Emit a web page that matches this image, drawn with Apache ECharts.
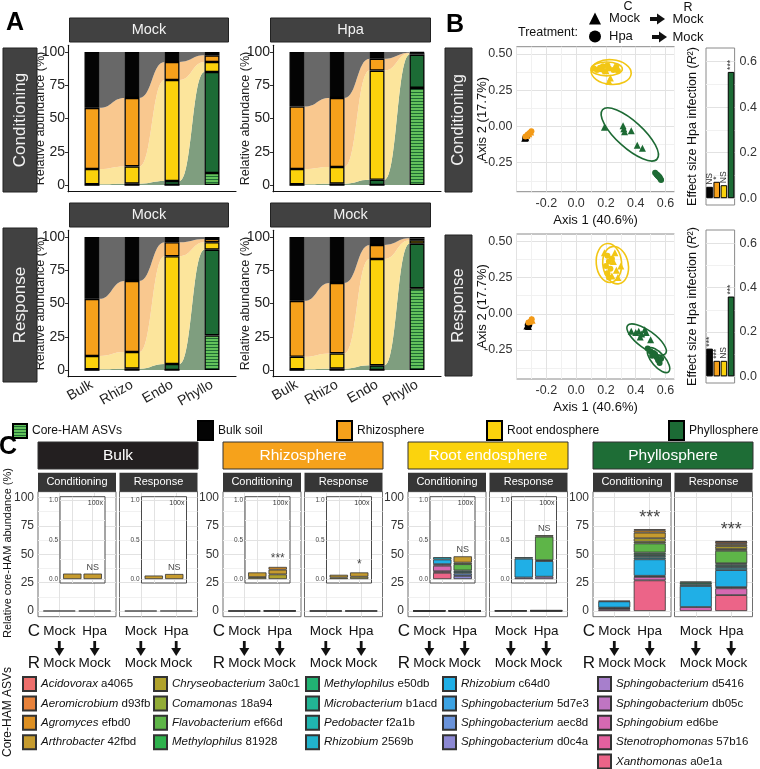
<!DOCTYPE html>
<html><head><meta charset="utf-8">
<script src="https://cdn.jsdelivr.net/npm/echarts@6/dist/echarts.min.js"></script>
<style>html,body{margin:0;padding:0;background:#fff}#c{width:760px;height:769px}</style>
</head><body><div id="c"></div>
<script>
// ---------------- DATA ----------------
// Panel A: stacked relative abundance (%) per compartment bar: Bulk, Rhizo, Endo, Phyllo
const aCategories = ['Bulk', 'Rhizo', 'Endo', 'Phyllo'];
const aLayerNames = ['Core-HAM ASVs', 'Phyllosphere', 'Root endosphere', 'Rhizosphere', 'Bulk soil'];
// Conditioning - Mock
const condMockCore   = [0, 0, 0, 9];
const condMockPhyllo = [0.5, 1, 3, 76];
const condMockEndo   = [11.5, 13, 76, 7.5];
const condMockRhizo  = [46, 51.5, 13.5, 5];
const condMockBulk   = [42, 34.5, 7.5, 2.5];
// Conditioning - Hpa
const condHpaCore   = [0, 0, 0, 73];
const condHpaPhyllo = [0.5, 1, 4, 25];
const condHpaEndo   = [11.5, 12.5, 82, 1];
const condHpaRhizo  = [47, 52, 9, 0.5];
const condHpaBulk   = [41, 34.5, 5, 0.5];
// Response - Mock -> Mock
const respMockCore   = [0, 0, 0, 26];
const respMockPhyllo = [0.5, 1, 4.5, 64.5];
const respMockEndo   = [10, 12.5, 81, 5.5];
const respMockRhizo  = [43, 53.5, 10.5, 2.5];
const respMockBulk   = [46.5, 33, 4, 1.5];
// Response - Hpa -> Mock
const respHpaCore   = [0, 0, 0, 61.5];
const respHpaPhyllo = [0.5, 1, 3.5, 33.5];
const respHpaEndo   = [9.5, 11.5, 80, 2.5];
const respHpaRhizo  = [42, 53, 10.5, 1.5];
const respHpaBulk   = [48, 34.5, 6, 1];
const aStripTop = ['Mock', 'Hpa'];
const aStripBottom = ['Mock', 'Mock'];

// Panel B: PCoA points [axis1, axis2] and ellipses [cx, cy, semiMajor, semiMinor, angleDeg]
const condBulkMock = [[-0.345, -0.082], [-0.338, -0.078]];
const condBulkHpa = [[-0.335, -0.074], [-0.328, -0.07], [-0.342, -0.08]];
const condRhizoMock = [[-0.33, -0.062], [-0.318, -0.05], [-0.305, -0.038]];
const condRhizoHpa = [[-0.34, -0.07], [-0.325, -0.056], [-0.312, -0.045], [-0.3, -0.033]];
const condEndoMock = [[0.22, 0.31], [0.23, 0.335], [0.16, 0.4], [0.26, 0.41], [0.2, 0.385]];
const condEndoHpa = [[0.12, 0.40], [0.14, 0.39], [0.16, 0.405], [0.18, 0.415], [0.19, 0.38], [0.21, 0.42], [0.22, 0.40], [0.25, 0.39], [0.27, 0.41], [0.28, 0.385]];
const condPhylloMock = [[0.19, -0.005], [0.315, 0.005], [0.32, -0.015], [0.325, -0.037], [0.37, -0.03], [0.41, -0.13], [0.445, -0.15]];
const condPhylloHpa = [[0.53, -0.32], [0.54, -0.33], [0.545, -0.335], [0.55, -0.34], [0.555, -0.345], [0.56, -0.35], [0.565, -0.36], [0.57, -0.37]];
const condBulkMockEll = [-0.34, -0.079, 0.012, 0.005, 30];
const condBulkHpaEll = [-0.335, -0.075, 0.012, 0.005, 30];
const condRhizoMockEll = [-0.318, -0.05, 0.03, 0.008, 45];
const condRhizoHpaEll = [-0.32, -0.052, 0.035, 0.01, 45];
const condEndoMockEll = [0.235, 0.375, 0.135, 0.085, -5];
const condEndoHpaEll = [0.205, 0.397, 0.105, 0.048, 0];
const condPhylloMockEll = [0.36, -0.055, 0.25, 0.09, -43];
const condPhylloHpaEll = [0.55, -0.345, 0.04, 0.014, -45];

const respBulkMock = [[-0.33, -0.085], [-0.32, -0.088]];
const respBulkHpa = [[-0.315, -0.08], [-0.325, -0.078]];
const respRhizoMock = [[-0.31, -0.05], [-0.3, -0.04], [-0.295, -0.045]];
const respRhizoHpa = [[-0.32, -0.06], [-0.305, -0.055], [-0.298, -0.038]];
const respEndoMock = [[0.19, 0.42], [0.25, 0.36], [0.27, 0.30], [0.30, 0.33], [0.28, 0.25], [0.24, 0.26], [0.26, 0.42]];
const respEndoHpa = [[0.21, 0.40], [0.22, 0.36], [0.24, 0.38], [0.20, 0.33], [0.23, 0.31], [0.21, 0.28], [0.22, 0.25]];
const respPhylloMock = [[0.37, -0.12], [0.40, -0.13], [0.42, -0.12], [0.44, -0.14], [0.47, -0.13], [0.43, -0.16], [0.50, -0.18], [0.46, -0.11]];
const respPhylloHpa = [[0.48, -0.24], [0.50, -0.26], [0.52, -0.27], [0.51, -0.29], [0.54, -0.30], [0.55, -0.32], [0.56, -0.34], [0.57, -0.31], [0.53, -0.28]];
const respBulkMockEll = [-0.325, -0.086, 0.012, 0.005, 0];
const respBulkHpaEll = [-0.32, -0.079, 0.012, 0.005, 0];
const respRhizoMockEll = [-0.302, -0.045, 0.018, 0.01, 40];
const respRhizoHpaEll = [-0.308, -0.05, 0.022, 0.01, 40];
const respEndoMockEll = [0.265, 0.335, 0.13, 0.085, 100];
const respEndoHpaEll = [0.22, 0.35, 0.135, 0.085, 95];
const respPhylloMockEll = [0.473, -0.178, 0.16, 0.06, -37];
const respPhylloHpaEll = [0.553, -0.32, 0.105, 0.045, -50];

// Panel B: effect size of Hpa infection (R2)
const effectCats = ['Bulk soil', 'Rhizosphere', 'Root endosphere', 'Phyllosphere'];
const effectCond = [0.05, 0.072, 0.057, 0.555];
const effectCondSig = ['NS', '*', 'NS', '***'];
const effectResp = [0.125, 0.07, 0.07, 0.36];
const effectRespSig = ['***', '***', 'NS', '***'];

// Panel C: core-HAM ASV abundance (%), one value per taxon (order of legend)
const taxa = ['Acidovorax a4065', 'Aeromicrobium d93fb', 'Agromyces efbd0', 'Arthrobacter 42fbd',
  'Chryseobacterium 3a0c1', 'Comamonas 18a94', 'Flavobacterium ef66d', 'Methylophilus 81928',
  'Methylophilus e50db', 'Microbacterium b1acd', 'Pedobacter f2a1b', 'Rhizobium 2569b',
  'Rhizobium c64d0', 'Sphingobacterium 5d7e3', 'Sphingobacterium aec8d', 'Sphingobacterium d0c4a',
  'Sphingobacterium d5416', 'Sphingobacterium db05c', 'Sphingobium ed6be', 'Stenotrophomonas 57b16',
  'Xanthomonas a0e1a'];
const cTreatments = ['Mock', 'Hpa'];
//                    0  1  2     3     4     5  6     7  8     9     10    11    12    13 14    15    16    17    18    19    20
const bulkCondMock  = [0, 0, 0, 0.07, 0, 0, 0, 0, 0, 0, 0, 0, 0, 0, 0, 0, 0, 0, 0, 0, 0];
const bulkCondHpa   = [0, 0, 0, 0.07, 0, 0, 0, 0, 0, 0, 0, 0, 0, 0, 0, 0, 0, 0, 0, 0, 0];
const bulkRespMock  = [0, 0, 0, 0.045, 0, 0, 0, 0, 0, 0, 0, 0, 0, 0, 0, 0, 0, 0, 0, 0, 0];
const bulkRespHpa   = [0, 0, 0, 0.065, 0, 0, 0, 0, 0, 0, 0, 0, 0, 0, 0, 0, 0, 0, 0, 0, 0];
const rhizoCondMock = [0, 0, 0, 0.06, 0.025, 0, 0, 0, 0, 0, 0, 0, 0, 0, 0, 0, 0, 0, 0, 0, 0];
const rhizoCondHpa  = [0, 0, 0.035, 0.06, 0.06, 0, 0, 0, 0, 0, 0, 0, 0, 0, 0, 0, 0, 0, 0, 0, 0];
const rhizoRespMock = [0, 0, 0, 0.035, 0.02, 0, 0, 0, 0, 0, 0, 0, 0, 0, 0, 0, 0, 0, 0, 0, 0];
const rhizoRespHpa  = [0, 0, 0, 0.055, 0.03, 0, 0, 0, 0, 0, 0, 0, 0, 0, 0, 0, 0, 0, 0, 0, 0];
const endoCondMock  = [0, 0, 0, 0, 0, 0, 0, 0, 0, 0, 0, 0.03, 0.06, 0, 0, 0, 0, 0.02, 0.07, 0.02, 0.08];
const endoCondHpa   = [0, 0, 0, 0.08, 0, 0.02, 0.08, 0, 0, 0.02, 0.02, 0, 0, 0, 0.03, 0.04, 0, 0, 0, 0, 0];
const endoRespMock  = [0, 0, 0, 0, 0, 0, 0, 0, 0, 0, 0.02, 0, 0.24, 0, 0, 0, 0.02, 0, 0, 0, 0];
const endoRespHpa   = [0, 0, 0, 0, 0, 0.02, 0.30, 0, 0.01, 0, 0, 0, 0.20, 0, 0, 0, 0.03, 0, 0, 0, 0];
const phylloCondMock = [0, 0, 0, 0, 0, 0, 0, 0, 0, 0, 0, 0.5, 5.5, 0.5, 0, 0, 0, 1.0, 1.5, 0, 0];
const phylloCondHpa  = [0, 1, 2, 5, 3, 1.5, 8, 1.5, 1.5, 0, 1.5, 1.5, 14.5, 1, 0, 0, 0, 0, 3, 0, 27];
const phylloRespMock = [0, 0, 0, 0, 0, 0, 0, 1, 1.5, 0, 1.5, 0, 18.5, 0, 0, 0, 0, 0, 3.5, 0, 0];
const phylloRespHpa  = [0.5, 1.5, 1, 1.5, 2.5, 1.5, 11, 1, 1.5, 0, 1.5, 2, 15, 1, 0, 0, 0, 0, 6, 0, 14];
const cTitles = ['Bulk', 'Rhizosphere', 'Root endosphere', 'Phyllosphere'];
const cSigCond = ['NS', '***', 'NS', '***'];
const cSigResp = ['NS', '*', 'NS', '***'];
const cTopLabels = ['Mock', 'Hpa'];
const cBottomLabels = ['Mock', 'Mock'];

// ---------------- STYLE ----------------
const FONT = "'Liberation Sans', Arial, Helvetica, sans-serif";
const COL = { bulk: '#040404', rhizo: '#f6a11b', endo: '#fbd20c', phyllo: '#1c6b35' };
const SCOL = { Bulk: '#000000', Rhizo: '#f39a17', Endo: '#f2c614', Phyllo: '#1d6a34' };
const aFlowColors = ['#7f9e7f', '#fce59c', '#f9c88f', '#686868'];
const taxaColors = ['#ee6f6c', '#e8823a', '#dc8f22', '#c69b2e', '#b0a22c', '#92ac36', '#5eb548', '#2fb24d',
  '#21b373', '#22b494', '#20b5b0', '#21b3cc', '#20afe6', '#3ca2e2', '#6a93da', '#8c88d3',
  '#a77fcc', '#bf75c2', '#d569b2', '#e3609e', '#ec6488'];
const GMAJ = '#e2e2e2', GMIN = '#f1f1f1';
const isMult = (v, m) => Math.abs(v / m - Math.round(v / m)) < 1e-6;
const fmt = (v, d) => { const p = Math.pow(10, d); let r = Math.round(v * p) / p; if (r === 0) r = 0; return r.toFixed(d); };
const cyc = (n, iMaj, iMin, cMaj, cMin) => { const a = []; for (let i = 0; i < n; i++) a.push(i === iMaj ? cMaj : (i === iMin ? cMin : 'rgba(0,0,0,0)')); return a; };

const stripeCanvas = (() => { const c = document.createElement('canvas'); c.width = 4; c.height = 3; const g = c.getContext('2d'); g.fillStyle = '#63c25b'; g.fillRect(0, 0, 4, 3); g.fillStyle = '#1f6b34'; g.fillRect(0, 2, 4, 1); return c; })();
const corePattern = { image: stripeCanvas, repeat: 'repeat' };
const aLayerColors = [corePattern, COL.phyllo, COL.endo, COL.rhizo, COL.bulk];

const option = { animation: false, backgroundColor: '#ffffff', textStyle: { fontFamily: FONT },
  grid: [], xAxis: [], yAxis: [], series: [], legend: [], graphic: { elements: [] } };
const G = option.graphic.elements;
function addGrid(g) { option.grid.push(Object.assign({ containLabel: false, show: false }, g)); return option.grid.length - 1; }
function addX(a) { option.xAxis.push(a); return option.xAxis.length - 1; }
function addY(a) { option.yAxis.push(a); return option.yAxis.length - 1; }
function gRect(x, y, w, h, fill, stroke) { G.push({ type: 'rect', silent: true, z: 10, shape: { x, y, width: w, height: h }, style: { fill, stroke: stroke || null, lineWidth: stroke ? 1 : 0 } }); }
function gText(x, y, text, o) { o = o || {}; G.push({ type: 'text', silent: true, z: 11, x, y, rotation: o.rot || 0,
  style: { text, fontSize: o.size || 12, fontFamily: FONT, fontWeight: o.weight || 'normal', fill: o.color || '#111',
    textAlign: o.align || 'center', textVerticalAlign: o.valign || 'middle' } }); }
function gDownArrow(x, y) {
  G.push({ type: 'rect', silent: true, z: 10, shape: { x: x - 1.4, y: y, width: 2.8, height: 9 }, style: { fill: '#111' } });
  G.push({ type: 'polygon', silent: true, z: 10, shape: { points: [[x - 5, y + 7], [x + 5, y + 7], [x, y + 15]] }, style: { fill: '#111' } });
}
function gRightArrow(x, y) {
  G.push({ type: 'rect', silent: true, z: 10, shape: { x: x, y: y - 2, width: 8, height: 4 }, style: { fill: '#111' } });
  G.push({ type: 'polygon', silent: true, z: 10, shape: { points: [[x + 7, y - 5.5], [x + 7, y + 5.5], [x + 15, y]] }, style: { fill: '#111' } });
}
const hiddenAxis = (gi, type, extra) => Object.assign({ gridIndex: gi, type, show: false, axisLine: { show: false }, axisTick: { show: false }, axisLabel: { show: false }, splitLine: { show: false } }, extra || {});

// ---------------- PANEL A ----------------
const aPanels = [
  { left: 68, top: 45.35, layers: [condMockCore, condMockPhyllo, condMockEndo, condMockRhizo, condMockBulk], showX: false },
  { left: 273, top: 45.35, layers: [condHpaCore, condHpaPhyllo, condHpaEndo, condHpaRhizo, condHpaBulk], showX: false },
  { left: 68, top: 230.35, layers: [respMockCore, respMockPhyllo, respMockEndo, respMockRhizo, respMockBulk], showX: true },
  { left: 273, top: 230.35, layers: [respHpaCore, respHpaPhyllo, respHpaEndo, respHpaRhizo, respHpaBulk], showX: true }
];
aPanels.forEach((p) => {
  // axes + flows on a continuous x scale (0.4 .. 4.6), bars on a category scale aligned with it
  const gi = addGrid({ left: p.left, top: p.top, width: 168, height: 146.3 });
  const xi = addX({ gridIndex: gi, type: 'value', min: 0.4, max: 4.6, interval: 0.2,
    axisLine: { show: true, onZero: false, lineStyle: { color: '#111', width: 1.1 } }, axisTick: { show: false }, splitLine: { show: false },
    axisLabel: { show: p.showX, rotate: 30, margin: 7, fontSize: 14, color: '#222',
      formatter: v => { const k = Math.round(v); return (isMult(v, 1) && k >= 1 && k <= 4) ? aCategories[k - 1] : ''; } } });
  const yi = addY({ gridIndex: gi, type: 'value', min: -5, max: 105,
    name: 'Relative abundance (%)', nameLocation: 'middle', nameGap: 21, nameMoveOverlap: false, nameTextStyle: { fontSize: 12.5, color: '#222' },
    axisLine: { show: true, onZero: false, lineStyle: { color: '#111', width: 1.1 } },
    axisTick: { show: true, length: 3, customValues: [0, 25, 50, 75, 100], lineStyle: { color: '#333' } },
    axisLabel: { customValues: [0, 25, 50, 75, 100], fontSize: 14, color: '#222', margin: 3 }, splitLine: { show: false } });
  const cum = aCategories.map((c, b) => { let s = 0; const out = [0]; [p.layers[0][b] + p.layers[1][b], p.layers[2][b], p.layers[3][b], p.layers[4][b]].forEach(v => { s += v; out.push(s); }); return out; });
  const flowData = []; for (let b = 0; b < 3; b++) for (let l = 0; l < 4; l++) flowData.push([b + 1, l]);
  option.series.push({ type: 'custom', xAxisIndex: xi, yAxisIndex: yi, z: 1, silent: true, data: flowData,
    renderItem: (params, api) => {
      const b = api.value(0) - 1, l = api.value(1), hw = 0.1875;
      const P = (x, y) => api.coord([x, y]);
      const A = P(b + 1 + hw, cum[b][l + 1]), B = P(b + 2 - hw, cum[b + 1][l + 1]);
      const C = P(b + 2 - hw, cum[b + 1][l]), D = P(b + 1 + hw, cum[b][l]);
      const m = (A[0] + B[0]) / 2;
      return { type: 'path', shape: { pathData: `M${A[0]} ${A[1]} C${m} ${A[1]} ${m} ${B[1]} ${B[0]} ${B[1]} L${C[0]} ${C[1]} C${m} ${C[1]} ${m} ${D[1]} ${D[0]} ${D[1]} Z` },
        style: { fill: aFlowColors[l], stroke: 'none' } };
    } });
  const bg = addGrid({ left: p.left + 4, top: p.top, width: 160, height: 146.3 });
  const bx = addX(hiddenAxis(bg, 'category', { data: aCategories, boundaryGap: true }));
  const by = addY(hiddenAxis(bg, 'value', { min: -5, max: 105 }));
  p.layers.forEach((arr, li) => option.series.push({ type: 'bar', name: aLayerNames[li], xAxisIndex: bx, yAxisIndex: by, stack: 'a' + bg,
    barWidth: 15, z: 3, silent: true, data: arr.slice(),
    itemStyle: { color: aLayerColors[li], borderColor: '#000', borderWidth: 1.3 } }));
});
gText(15, 23, 'A', { size: 25, weight: 'bold', color: '#000' });
gRect(69.5, 18, 159, 24, '#414141', '#222'); gText(149, 30, aStripTop[0], { size: 14.5, color: '#f2f2f2' });
gRect(270.5, 18, 160, 24, '#414141', '#222'); gText(350.5, 30, aStripTop[1], { size: 14.5, color: '#f2f2f2' });
gRect(69.5, 203, 159, 24, '#414141', '#222'); gText(149, 215, aStripBottom[0], { size: 14.5, color: '#f2f2f2' });
gRect(270.5, 203, 160, 24, '#414141', '#222'); gText(350.5, 215, aStripBottom[1], { size: 14.5, color: '#f2f2f2' });
gRect(3, 48, 34, 144, '#414141', '#222'); gText(20, 120, 'Conditioning', { size: 17, color: '#f2f2f2', rot: Math.PI / 2 });
gRect(3, 228, 34, 154, '#414141', '#222'); gText(20, 305, 'Response', { size: 17, color: '#f2f2f2', rot: Math.PI / 2 });

// legend row under A/B
const aLegendPos = [[12, 'Core-HAM ASVs'], [197, 'Bulk soil'], [336, 'Rhizosphere'], [486, 'Root endosphere'], [668, 'Phyllosphere']];
aLegendPos.forEach(([x, name], i) => option.legend.push({ left: x, top: i === 0 ? 423 : 420, padding: 0, selectedMode: false, icon: 'rect',
  itemWidth: i === 0 ? 14 : 15, itemHeight: i === 0 ? 14 : 19, itemGap: 0, data: [name],
  textStyle: { fontSize: 12, color: '#111', fontFamily: FONT } }));

// ---------------- PANEL B ----------------
gText(455, 25, 'B', { size: 25, weight: 'bold', color: '#000' });
gText(518, 33, 'Treatment:', { size: 12.5, align: 'left' });
gText(628, 7, 'C', { size: 12.5 });
gText(688, 8, 'R', { size: 12.5 });
gRightArrow(650, 19); gRightArrow(652, 37);
gText(688, 19, 'Mock', { size: 13 });
gText(688, 37, 'Mock', { size: 13 });
option.legend.push({ left: 589, top: 12, padding: 0, orient: 'vertical', selectedMode: false, itemWidth: 12, itemHeight: 12, itemGap: 5,
  itemStyle: { color: '#000', borderWidth: 0 },
  data: [{ name: 'Mock', icon: 'triangle' }, { name: 'Hpa', icon: 'circle' }],
  textStyle: { fontSize: 13, color: '#111', padding: [0, 0, 0, 3] } });
gRect(445, 48, 27, 144, '#414141', '#222'); gText(458.5, 120, 'Conditioning', { size: 16.5, color: '#f2f2f2', rot: Math.PI / 2 });
gRect(445, 235, 27, 141, '#414141', '#222'); gText(458.5, 305.5, 'Response', { size: 16.5, color: '#f2f2f2', rot: Math.PI / 2 });

function scatterPanel(top, groups) {
  const gi = addGrid({ left: 516.5, top, width: 158, height: 145, show: true, backgroundColor: '#fff', borderColor: '#8a8a8a', borderWidth: 1 });
  const xi = addX({ gridIndex: gi, type: 'value', min: -0.4, max: 0.66, interval: 0.1,
    axisLine: { show: false }, axisTick: { show: false },
    splitLine: { show: true, lineStyle: { color: cyc(2, 0, 1, GMAJ, GMIN), width: 1 } },
    axisLabel: { fontSize: 12.5, color: '#333', margin: 5, formatter: v => (isMult(v, 0.2) && v > -0.35 && v < 0.65) ? fmt(v, 1) : '' },
    name: 'Axis 1 (40.6%)', nameLocation: 'middle', nameGap: 22, nameMoveOverlap: false, nameTextStyle: { fontSize: 13, color: '#111' } });
  const yi = addY({ gridIndex: gi, type: 'value', min: -0.45, max: 0.55, interval: 0.025,
    axisLine: { show: false }, axisTick: { show: false },
    splitLine: { show: true, lineStyle: { color: cyc(10, 8, 3, GMAJ, GMIN), width: 1 } },
    axisLabel: { fontSize: 12.5, color: '#333', margin: 4, formatter: v => isMult(v, 0.25) ? fmt(v, 2) : '' },
    name: 'Axis 2 (17.7%)', nameLocation: 'middle', nameGap: 28, nameMoveOverlap: false, nameTextStyle: { fontSize: 13, color: '#111' } });
  groups.forEach(([comp, trt, pts, ell]) => {
    const color = SCOL[comp];
    option.series.push({ type: 'custom', xAxisIndex: xi, yAxisIndex: yi, z: 4, silent: true, data: [ell],
      renderItem: (params, api) => {
        const c = api.coord([api.value(0), api.value(1)]);
        const sx = api.size([1, 0])[0], sy = api.size([0, 1])[1];
        const ang = api.value(4) * Math.PI / 180;
        const ux = Math.cos(ang) * sx, uy = -Math.sin(ang) * sy;
        const ra = api.value(2) * Math.hypot(ux, uy), phi = Math.atan2(uy, ux);
        const vx = -Math.sin(ang) * sx, vy = -Math.cos(ang) * sy;
        const rb = api.value(3) * Math.hypot(vx, vy);
        const p1 = [c[0] + ra * Math.cos(phi), c[1] + ra * Math.sin(phi)], p2 = [c[0] - ra * Math.cos(phi), c[1] - ra * Math.sin(phi)];
        const deg = phi * 180 / Math.PI;
        return { type: 'path', shape: { pathData: `M${p1[0]} ${p1[1]} A${ra} ${rb} ${deg} 0 1 ${p2[0]} ${p2[1]} A${ra} ${rb} ${deg} 0 1 ${p1[0]} ${p1[1]} Z` },
          style: { fill: 'none', stroke: color, lineWidth: 1.6 } };
      } });
    option.series.push({ type: 'scatter', name: trt, xAxisIndex: xi, yAxisIndex: yi, z: 5, silent: true,
      symbol: trt === 'Mock' ? 'triangle' : 'circle', symbolSize: trt === 'Mock' ? 7 : 6, data: pts, itemStyle: { color, opacity: 1 } });
  });
}
scatterPanel(46.7, [['Bulk', 'Mock', condBulkMock, condBulkMockEll], ['Bulk', 'Hpa', condBulkHpa, condBulkHpaEll],
  ['Rhizo', 'Mock', condRhizoMock, condRhizoMockEll], ['Rhizo', 'Hpa', condRhizoHpa, condRhizoHpaEll],
  ['Endo', 'Mock', condEndoMock, condEndoMockEll], ['Endo', 'Hpa', condEndoHpa, condEndoHpaEll],
  ['Phyllo', 'Mock', condPhylloMock, condPhylloMockEll], ['Phyllo', 'Hpa', condPhylloHpa, condPhylloHpaEll]]);
scatterPanel(234, [['Bulk', 'Mock', respBulkMock, respBulkMockEll], ['Bulk', 'Hpa', respBulkHpa, respBulkHpaEll],
  ['Rhizo', 'Mock', respRhizoMock, respRhizoMockEll], ['Rhizo', 'Hpa', respRhizoHpa, respRhizoHpaEll],
  ['Endo', 'Mock', respEndoMock, respEndoMockEll], ['Endo', 'Hpa', respEndoHpa, respEndoHpaEll],
  ['Phyllo', 'Mock', respPhylloMock, respPhylloMockEll], ['Phyllo', 'Hpa', respPhylloHpa, respPhylloHpaEll]]);

const effectColors = [COL.bulk, COL.rhizo, COL.endo, COL.phyllo];
function effectPanel(top, height, vals, sigs) {
  const gi = addGrid({ left: 706, top, width: 31, height, show: true, backgroundColor: '#fff', borderColor: '#8a8a8a', borderWidth: 1 });
  const xi = addX({ gridIndex: gi, type: 'category', data: effectCats, axisLine: { show: false }, axisTick: { show: false }, axisLabel: { show: false }, splitLine: { show: false } });
  const yi = addY({ gridIndex: gi, type: 'value', position: 'right', min: -0.03, max: 0.66, interval: 0.01,
    axisLine: { show: false }, axisTick: { show: false },
    splitLine: { show: true, lineStyle: { color: cyc(20, 3, 13, GMAJ, GMIN), width: 1 } },
    axisLabel: { fontSize: 12.5, color: '#333', margin: 5, formatter: v => isMult(v, 0.2) ? fmt(v, 1) : '' } });
  addY({ gridIndex: gi, type: 'value', position: 'left', min: -0.03, max: 0.66,
    axisLine: { show: false }, axisTick: { show: false }, axisLabel: { show: false }, splitLine: { show: false },
    name: 'Effect size Hpa infection ({i|R}²)', nameLocation: 'middle', nameGap: 7, nameMoveOverlap: false,
    nameTextStyle: { fontSize: 12.5, color: '#111', rich: { i: { fontStyle: 'italic', fontSize: 12.5, color: '#111' } } } });
  option.series.push({ type: 'bar', name: 'effect', xAxisIndex: xi, yAxisIndex: yi, barWidth: '92%', z: 3, silent: true,
    data: vals.map((v, i) => ({ value: v, itemStyle: { color: effectColors[i] } })),
    itemStyle: { borderColor: '#000', borderWidth: 1 },
    label: { show: true, position: 'top', rotate: 90, align: 'left', verticalAlign: 'middle', distance: 2, fontSize: 8.5, color: '#333',
      formatter: p => sigs[p.dataIndex] } });
}
effectPanel(48, 157, effectCond, effectCondSig);
effectPanel(230, 153, effectResp, effectRespSig);

// ---------------- PANEL C ----------------
gText(8, 447, 'C', { size: 25, weight: 'bold', color: '#000' });
gText(8, 553, 'Relative core-HAM abundance (%)', { size: 11, rot: Math.PI / 2 });
const cGroups = [
  { left: 38, color: '#231f20', data: [[bulkCondMock, bulkCondHpa], [bulkRespMock, bulkRespHpa]], inset: true },
  { left: 223, color: '#f6a21b', data: [[rhizoCondMock, rhizoCondHpa], [rhizoRespMock, rhizoRespHpa]], inset: true },
  { left: 408, color: '#fbd30d', data: [[endoCondMock, endoCondHpa], [endoRespMock, endoRespHpa]], inset: true },
  { left: 593, color: '#1e6d36', data: [[phylloCondMock, phylloCondHpa], [phylloRespMock, phylloRespHpa]], inset: false }
];
const sumArr = a => a.reduce((s, v) => s + v, 0);
// bar grid aligned to a continuous panel scale of 0.4..2.6 (bars at 1 and 2)
function barGrid(panelLeft, panelWidth, top, height, ymin, ymax, z) {
  const u = panelWidth / 2.2;
  const gi = addGrid({ left: panelLeft + 0.1 * u, top, width: 2 * u, height, z });
  const xi = addX(hiddenAxis(gi, 'category', { data: cTreatments, boundaryGap: true }));
  const yi = addY(hiddenAxis(gi, 'value', { min: ymin, max: ymax }));
  return { gi, xi, yi };
}
function stackBars(b, mock, hpa, barW, z) {
  for (let t = taxa.length - 1; t >= 0; t--) {
    option.series.push({ type: 'bar', name: taxa[t], xAxisIndex: b.xi, yAxisIndex: b.yi, stack: 'c' + b.gi, barWidth: barW, z, silent: true,
      data: [mock[t] > 0 ? mock[t] : '-', hpa[t] > 0 ? hpa[t] : '-'],
      itemStyle: { color: taxaColors[t], borderColor: '#333', borderWidth: 0.8 } });
  }
}
function sigLabel(b, value, text, size, z) {
  option.series.push({ type: 'scatter', name: 'sig', xAxisIndex: b.xi, yAxisIndex: b.yi, z, silent: true, symbolSize: 0.1,
    itemStyle: { color: 'rgba(0,0,0,0)' }, data: [[1, value]],
    label: { show: true, position: 'top', distance: 2, fontSize: size, color: '#111', formatter: () => text } });
}
cGroups.forEach((g, k) => {
  gRect(g.left, 442, 160, 27, g.color, '#333');
  gText(g.left + 80, 455.5, cTitles[k], { size: 15.5, color: '#fff' });
  gText(g.left - 4, 631, 'C', { size: 17 });
  gText(g.left - 4, 663, 'R', { size: 17 });
  [0, 1].forEach(s => {
    const pl = g.left + s * 81.5;
    gRect(pl, 472.7, 78, 19, '#363636');
    gText(pl + 39, 482.2, s === 0 ? 'Conditioning' : 'Response', { size: 11, color: '#fff' });
    [21.3, 56.7].forEach((dx, bi) => {
      gText(pl + dx, 631, cTopLabels[bi], { size: 13.5 });
      gDownArrow(pl + dx, 641);
      gText(pl + dx, 663, cBottomLabels[bi], { size: 13.5 });
    });
    const [mock, hpa] = g.data[s];
    const gi = addGrid({ left: pl, top: 491.7, width: 78, height: 125, show: true, backgroundColor: 'rgba(0,0,0,0)', borderColor: '#6e6e6e', borderWidth: 1, z: 0 });
    addX({ gridIndex: gi, type: 'value', min: 0.4, max: 2.6, interval: 0.2, z: 0,
      axisLine: { show: false }, axisTick: { show: false }, axisLabel: { show: false },
      splitLine: { show: true, lineStyle: { color: cyc(5, 3, null, GMAJ, GMIN), width: 1 } } });
    addY({ gridIndex: gi, type: 'value', min: -5, max: 105, interval: 2.5, z: 0,
      axisLine: { show: false }, axisTick: { show: false },
      axisLabel: { show: s === 0, fontSize: 12, color: '#333', margin: 4, formatter: v => isMult(v, 25) ? String(Math.round(v)) : '' },
      splitLine: { show: true, lineStyle: { color: cyc(10, 2, 7, GMAJ, GMIN), width: 1 } } });
    const mb = barGrid(pl, 78, 491.7, 125, -5, 105, 0);
    stackBars(mb, mock, hpa, 32, 2);
    const sig = s === 0 ? cSigCond[k] : cSigResp[k];
    if (!g.inset) {
      sigLabel(mb, sumArr(hpa), sig, 18, 3);
    } else {
      const il = pl + 22;
      const ig = addGrid({ left: il, top: 496.7, width: 45, height: 86.3, show: true, backgroundColor: '#fff', borderColor: '#4a4a4a', borderWidth: 1, z: 5 });
      addX({ gridIndex: ig, type: 'value', min: 0.4, max: 2.6, interval: 0.2, z: 6,
        axisLine: { show: false }, axisTick: { show: false }, axisLabel: { show: false },
        splitLine: { show: true, lineStyle: { color: cyc(5, 3, null, GMAJ, GMIN), width: 1 } } });
      addY({ gridIndex: ig, type: 'value', min: -0.05, max: 1.05, interval: 0.05, z: 6,
        axisLine: { show: false }, axisTick: { show: false },
        axisLabel: { fontSize: 6.5, color: '#444', margin: 2, formatter: v => isMult(v, 0.5) ? fmt(v, 1) : '' },
        splitLine: { show: true, lineStyle: { color: cyc(10, 1, 6, GMAJ, GMIN), width: 1 } } });
      const ib = barGrid(il, 45, 496.7, 86.3, -0.05, 1.05, 6);
      stackBars(ib, mock, hpa, 18.4, 7);
      sigLabel(ib, sumArr(hpa), sig, sig === 'NS' ? 9 : 12, 8);
      gText(il + 43, 503.5, '100x', { size: 7, align: 'right', color: '#333' });
    }
  });
});

// taxa legend (one legend per column block; rows ~19.4px apart)
gText(8, 712, 'Core-HAM ASVs', { size: 12, rot: Math.PI / 2 });
const taxaBlocks = [[0, 1, 2, 3], [4, 5, 6, 7], [8, 9, 10, 11], [12, 13, 14, 15], [16, 17, 18, 19], [20]];
const taxaBlockLeft = [22, 153, 305, 442, 597, 597];
const taxaBlockRow = [0, 0, 0, 0, 0, 4];
taxaBlocks.forEach((col, ci) => option.legend.push({ left: taxaBlockLeft[ci], top: 676 + taxaBlockRow[ci] * 19.4, padding: 0, orient: 'vertical', selectedMode: false, icon: 'rect',
  itemWidth: 13, itemHeight: 14, itemGap: 3.4, data: col.map(i => taxa[i]),
  formatter: name => { const sp = name.split(' '); return '{i|' + sp[0] + '} ' + sp.slice(1).join(' '); },
  textStyle: { fontSize: 11.5, lineHeight: 14, color: '#111', fontFamily: FONT,
    rich: { i: { fontStyle: 'italic', fontSize: 11.5, lineHeight: 14, color: '#111', fontFamily: FONT } } } }));

const chart = echarts.init(document.getElementById('c'), null, { renderer: 'canvas' });
chart.setOption(option);
</script></body></html>
